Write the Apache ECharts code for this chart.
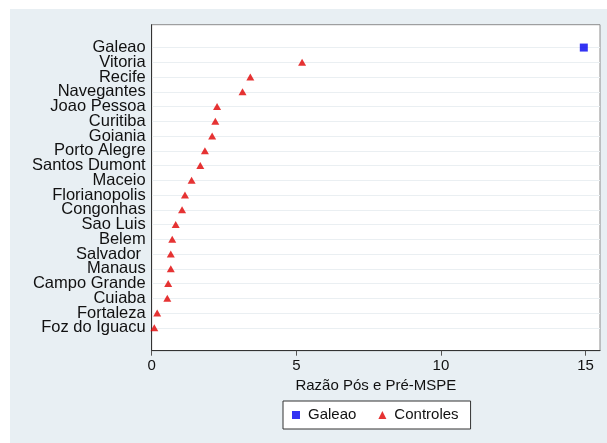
<!DOCTYPE html>
<html>
<head>
<meta charset="utf-8">
<script src="https://cdn.jsdelivr.net/npm/echarts@6/dist/echarts.min.js"></script>
<style>
  html, body { margin: 0; padding: 0; background: #ffffff; }
  #frame { position: absolute; left: 10px; top: 9px; width: 597px; height: 434px; background: #e8eff3; }
  #chart { position: absolute; left: 0; top: 0; width: 607px; height: 443px; }
</style>
</head>
<body>
<div id="frame"></div>
<div id="chart"></div>
<script>
// Airports ordered from top to bottom of the dot plot
const airports = [
  'Galeao', 'Vitoria', 'Recife', 'Navegantes', 'Joao Pessoa', 'Curitiba',
  'Goiania', 'Porto Alegre', 'Santos Dumont', 'Maceio', 'Florianopolis',
  'Congonhas', 'Sao Luis', 'Belem', 'Salvador ', 'Manaus', 'Campo Grande',
  'Cuiaba', 'Fortaleza', 'Foz do Iguacu'
];
// Post / pre MSPE ratio for each airport
const mspeRatio = [
  14.94, 5.20, 3.41, 3.14, 2.26, 2.20,
  2.09, 1.84, 1.68, 1.38, 1.15,
  1.05, 0.83, 0.71, 0.66, 0.66, 0.57,
  0.54, 0.19, 0.09
];
const treated = 'Galeao';
const xTicks = [0, 5, 10, 15];
const rowIndex = airports.map((_, i) => i);
// Row names are tightly packed, so they are split over two overlaid axes
// (even and odd rows) to keep the label collision check from dropping any.
const evenRows = rowIndex.filter(i => i % 2 === 0);
const oddRows = rowIndex.filter(i => i % 2 === 1);

const treatedData = [];
const controlData = [];
airports.forEach((name, i) => {
  const point = [mspeRatio[i], i];
  if (name === treated) treatedData.push(point); else controlData.push(point);
});

const font = 'Liberation Sans, Arial, Helvetica, sans-serif';
const chart = echarts.init(document.getElementById('chart'), null, { renderer: 'canvas' });

const rowAxis = (rows, primary) => ({
  type: 'value',
  position: 'left',
  inverse: true,
  min: -1.55, max: 20.55,
  axisLine: { show: primary, onZero: false, lineStyle: { color: '#333', width: 1 } },
  axisTick: { show: false, customValues: rowIndex },
  axisLabel: {
    fontSize: 16.5, color: '#111', margin: 6, fontFamily: font,
    customValues: rows,
    showMinLabel: true, showMaxLabel: true, hideOverlap: false,
    formatter: v => airports[Math.round(v)] ?? ''
  },
  splitLine: { show: primary, lineStyle: { color: '#eaeff2', width: 1 } }
});

chart.setOption({
  backgroundColor: 'transparent',
  animation: false,
  textStyle: { fontFamily: font },
  grid: {
    left: 151.7, top: 24.7, right: 7, bottom: 92.3,
    show: true, backgroundColor: '#ffffff', borderColor: '#8c8c8c', borderWidth: 1
  },
  xAxis: {
    type: 'value',
    min: 0, max: 15.5,
    name: 'Razão Pós e Pré-MSPE',
    nameLocation: 'middle',
    nameGap: 26,
    nameTextStyle: { fontSize: 15, color: '#111', fontFamily: font },
    axisLine: { show: true, onZero: false, lineStyle: { color: '#333', width: 1 } },
    axisTick: { show: true, length: 5, lineStyle: { color: '#555' }, customValues: xTicks },
    axisLabel: { fontSize: 15, color: '#111', margin: 8, customValues: xTicks, fontFamily: font },
    splitLine: { show: false }
  },
  yAxis: [rowAxis(evenRows, true), rowAxis(oddRows, false)],
  legend: {
    left: 283, top: 401,
    orient: 'horizontal',
    backgroundColor: '#ffffff',
    borderColor: '#333',
    borderWidth: 1,
    borderRadius: 0,
    padding: [5, 12, 5, 9],
    itemGap: 22,
    itemWidth: 8,
    itemHeight: 8,
    textStyle: { fontSize: 15, color: '#111', fontFamily: font, lineHeight: 18, padding: [0, 0, 0, 3] },
    data: [
      { name: 'Galeao', icon: 'rect' },
      { name: 'Controles', icon: 'triangle' }
    ]
  },
  series: [
    {
      name: 'Galeao',
      type: 'scatter',
      yAxisIndex: 0,
      symbol: 'rect',
      symbolSize: 8,
      itemStyle: { color: '#0000f0' },
      data: treatedData
    },
    {
      name: 'Controles',
      type: 'scatter',
      yAxisIndex: 0,
      symbol: 'triangle',
      symbolSize: [8, 7],
      itemStyle: { color: '#e00000' },
      data: controlData
    }
  ]
});
</script>
</body>
</html>
